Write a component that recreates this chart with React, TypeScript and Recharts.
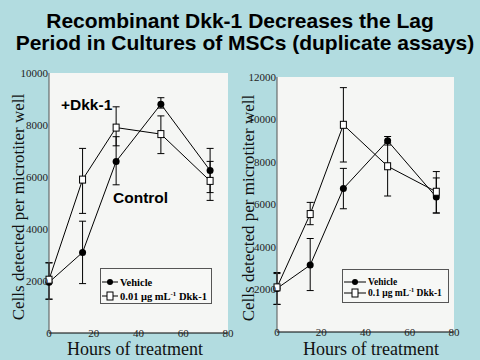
import React from 'react';
import { LineChart, Line, XAxis, YAxis, ErrorBar, CartesianGrid, Legend } from 'recharts';

const hours = [0, 15, 30, 50, 72];

// left panel: vehicle vs 0.01 ug/mL Dkk-1
const vehicleA = [1950, 3100, 6600, 8800, 6250];
const vehicleAHigh = [2700, 4300, 7550, 9050, 7100];
const vehicleALow = [1300, 1900, 5700, 8650, 5400];
const dkkA = [2050, 5900, 7900, 7650, 5850];
const dkkAHigh = [2700, 7100, 8700, 8350, 6600];
const dkkALow = [1300, 4600, 7200, 6900, 5100];

// right panel: vehicle vs 0.1 ug/mL Dkk-1
const vehicleB = [2050, 3150, 6750, 9000, 6350];
const vehicleBHigh = [2750, 4400, 7700, 9200, 7250];
const vehicleBLow = [1300, 1950, 5800, 8800, 5600];
const dkkB = [2100, 5550, 9750, 7800, 6600];
const dkkBHigh = [2800, 6100, 11500, 8900, 7550];
const dkkBLow = [1300, 5050, 8000, 6400, 5600];

const xTicks = [0, 20, 40, 60, 80];
const yTicksA = [2000, 4000, 6000, 8000, 10000];
const yTicksB = [2000, 4000, 6000, 8000, 10000, 12000];

const SERIF = '"Liberation Serif", "Times New Roman", serif';
const SANS = '"Liberation Sans", Arial, sans-serif';

const toRows = (v: number[], vh: number[], vl: number[], d: number[], dh: number[], dl: number[]) =>
  hours.map((h, i) => ({
    h,
    vehicle: v[i],
    vehicleErr: [v[i] - vl[i], vh[i] - v[i]],
    dkk: d[i],
    dkkErr: [d[i] - dl[i], dh[i] - d[i]],
  }));

const circleDot = (p: any) => <circle key={`c${p.index}`} cx={p.cx} cy={p.cy} r={3.5} fill="#000" />;
const squareDot = (p: any) => (
  <rect key={`s${p.index}`} x={p.cx - 3} y={p.cy - 3.5} width={6} height={7} fill="#fff" stroke="#000" strokeWidth={1} />
);

const XTick = (p: any) => (
  <text x={p.x} y={p.y} dy="0.35em" textAnchor="middle" fontSize={11} fontFamily={SERIF} fill="#222">
    {p.payload.value}
  </text>
);

const legendBox = (dose: string, w: number, h: number, r1: number, r2: number, fs: number, lineW: number) => () => (
  <svg width={w} height={h} style={{ display: 'block' }}>
    <rect x={0.5} y={0.5} width={w - 1} height={h - 1} fill="#f7f8f6" stroke="#555" />
    <line x1={2} x2={2 + lineW} y1={r1} y2={r1} stroke="#000" />
    <circle cx={2 + lineW / 2} cy={r1} r={3} fill="#000" />
    <text x={lineW + 4} y={r1} dy="0.35em" fontSize={fs} fontWeight="bold" fontFamily={SERIF}>Vehicle</text>
    <line x1={2} x2={2 + lineW} y1={r2} y2={r2} stroke="#000" />
    <rect x={2 + lineW / 2 - 3} y={r2 - 4} width={6} height={8} fill="#fff" stroke="#000" />
    <text x={lineW + 4} y={r2} dy="0.35em" fontSize={fs} fontWeight="bold" fontFamily={SERIF}>
      {dose} μg mL<tspan fontSize={fs * 0.65} dy={-4}>-1</tspan><tspan dy={4}> Dkk-1</tspan>
    </text>
  </svg>
);

type PanelProps = {
  data: any[];
  yMax: number;
  yTicks: number[];
  margin: { top: number; right: number; bottom: number; left: number };
  yWidth: number;
  legend: () => React.ReactElement;
  legendPos: { left: number; top: number; width: number; height: number };
};

const Panel = ({ data, yMax, yTicks, margin, yWidth, legend, legendPos }: PanelProps) => (
  <LineChart width={240} height={360} data={data} margin={margin}>
    <CartesianGrid fill="#f5f6f4" horizontal={false} vertical={false} />
    <XAxis
      dataKey="h"
      type="number"
      domain={[0, 80]}
      ticks={xTicks}
      height={20}
      tickLine={false}
      tickSize={0}
      tickMargin={0}
      tick={<XTick />}
      axisLine={{ stroke: '#000', strokeWidth: 1.2 }}
    />
    <XAxis xAxisId="top" orientation="top" type="number" domain={[0, 80]} height={0} tick={false} tickLine={false} axisLine={{ stroke: '#888' }} />
    <YAxis
      type="number"
      domain={[0, yMax]}
      ticks={yTicks}
      width={yWidth}
      tickLine={false}
      tickSize={0}
      tickMargin={1}
      tick={{ fontSize: 11, fontFamily: SERIF, fill: '#222' }}
      axisLine={{ stroke: '#555' }}
    />
    <YAxis yAxisId="right" orientation="right" type="number" domain={[0, yMax]} width={0} tick={false} tickLine={false} axisLine={{ stroke: '#888' }} />
    <Legend layout="vertical" align="center" verticalAlign="middle" content={legend} wrapperStyle={legendPos} />
    <Line type="linear" dataKey="vehicle" stroke="#000" strokeWidth={1} dot={circleDot} isAnimationActive={false}>
      <ErrorBar dataKey="vehicleErr" width={3.5} stroke="#000" strokeWidth={1} isAnimationActive={false} />
    </Line>
    <Line type="linear" dataKey="dkk" stroke="#000" strokeWidth={1} dot={squareDot} isAnimationActive={false}>
      <ErrorBar dataKey="dkkErr" width={3.5} stroke="#000" strokeWidth={1} isAnimationActive={false} />
    </Line>
  </LineChart>
);

export default function App() {
  const dataA = toRows(vehicleA, vehicleAHigh, vehicleALow, dkkA, dkkAHigh, dkkALow);
  const dataB = toRows(vehicleB, vehicleBHigh, vehicleBLow, dkkB, dkkBHigh, dkkBLow);
  return (
    <div style={{ position: 'absolute', left: 0, top: 0, width: 480, height: 360, background: '#b2dce0', overflow: 'hidden' }}>
      <div style={{ position: 'absolute', left: 0, top: 0 }}>
        <Panel
          data={dataA}
          yMax={10000}
          yTicks={yTicksA}
          margin={{ top: 73, right: 12, bottom: 7, left: 9 }}
          yWidth={40}
          legend={legendBox('0.01', 112, 36, 14, 28, 10.5, 16)}
          legendPos={{ left: 100, top: 268, width: 112, height: 36 }}
        />
      </div>
      <div style={{ position: 'absolute', left: 240, top: 0 }}>
        <Panel
          data={dataB}
          yMax={12000}
          yTicks={yTicksB}
          margin={{ top: 77, right: 26, bottom: 8, left: 0 }}
          yWidth={37}
          legend={legendBox('0.1', 107, 34, 13, 24, 9.5, 22)}
          legendPos={{ left: 102, top: 269, width: 107, height: 34 }}
        />
      </div>
      <svg width={480} height={360} style={{ position: 'absolute', left: 0, top: 0, pointerEvents: 'none' }}>
        <g fontFamily={SANS} fontWeight="bold" fontSize={21} fill="#000" textAnchor="middle">
          <text x={240} y={28}>Recombinant Dkk-1 Decreases the Lag</text>
          <text x={245} y={50}>Period in Cultures of MSCs (duplicate assays)</text>
        </g>
        <g fontFamily={SANS} fontWeight="bold" fontSize={15.5} fill="#000">
          <text x={61} y={110}>+Dkk-1</text>
          <text x={113} y={203}>Control</text>
        </g>
        <g fontFamily={SERIF} fontSize={17} fill="#111" textAnchor="middle">
          <text transform="translate(24,207) rotate(-90)">Cells detected per microtiter well</text>
          <text transform="translate(254,208) rotate(-90)">Cells detected per microtiter well</text>
        </g>
        <g fontFamily={SERIF} fontSize={18} fill="#111" textAnchor="middle">
          <text x={135} y={355}>Hours of treatment</text>
          <text x={371} y={355}>Hours of treatment</text>
        </g>
      </svg>
    </div>
  );
}
